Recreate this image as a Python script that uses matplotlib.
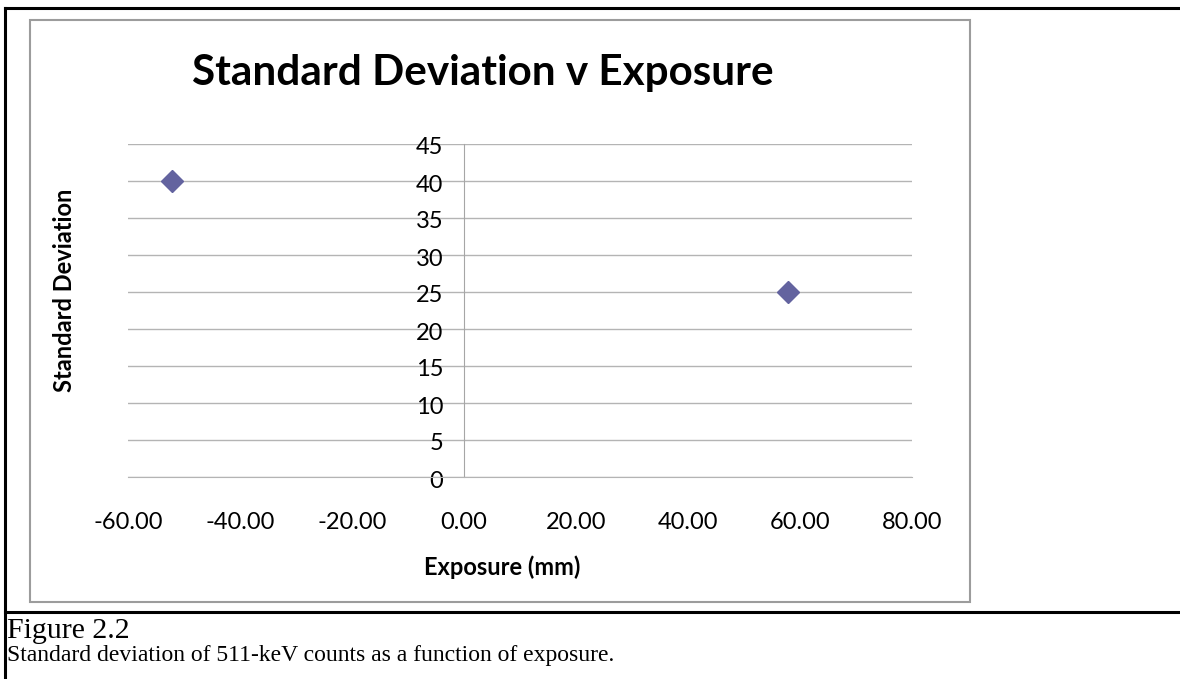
import numpy as np
import matplotlib.pyplot as plt
from matplotlib.patches import Rectangle
from matplotlib.lines import Line2D
from matplotlib.transforms import ScaledTranslation

# measured points
exposure = [-52.1, 57.9]
std_dev = [40, 25]

x_ticks = [-60, -40, -20, 0, 20, 40, 60, 80]
y_ticks = [0, 5, 10, 15, 20, 25, 30, 35, 40, 45]

W, H = 1180, 679

def fx(px):
    return px / W

def fy(py):
    return 1 - py / H

plt.rcParams['font.family'] = ['Lato', 'DejaVu Sans']

fig = plt.figure(figsize=(W / 100, H / 100), dpi=100)

# plot area
ax = fig.add_axes([fx(128), fy(477), fx(912) - fx(128), fy(144) - fy(477)])
ax.set_xlim(-60, 80)
ax.set_ylim(0, 45)

grid_c = '#b4b4b4'
ax.set_yticks(y_ticks)
ax.set_yticklabels([str(v) for v in y_ticks])
ax.set_xticks(x_ticks)
ax.set_xticklabels(['%.2f' % v for v in x_ticks])
ax.grid(axis='y', color=grid_c, linewidth=1)
ax.set_axisbelow(True)

for s in ['top', 'right']:
    ax.spines[s].set_visible(False)
ax.spines['left'].set_position(('data', 0))
ax.spines['left'].set_color('#a6a6a6')
ax.spines['bottom'].set_color(grid_c)
ax.tick_params(axis='both', length=0, labelsize=17, colors='black')
ax.tick_params(axis='y', pad=15)
ax.tick_params(axis='x', pad=25.5)

# y labels sit a little below their gridline
shift = ScaledTranslation(0, -0.04, fig.dpi_scale_trans)
for lab in ax.get_yticklabels():
    lab.set_verticalalignment('center')
    lab.set_transform(lab.get_transform() + shift)

ax.plot(exposure, std_dev, linestyle='none', marker='D', markersize=11,
        color='#63639f', clip_on=False, zorder=5)

# chart frame (grey) and page frame (black)
fig.patches.append(Rectangle((fx(30), fy(602)), fx(970) - fx(30), fy(20) - fy(602),
                             transform=fig.transFigure, fill=False,
                             edgecolor='#9c9c9c', linewidth=1.5))
fig.lines.append(Line2D([fx(5), 1], [fy(8), fy(8)], transform=fig.transFigure,
                        color='black', linewidth=2.2))
fig.lines.append(Line2D([fx(5), fx(5)], [fy(8), 0], transform=fig.transFigure,
                        color='black', linewidth=2.2))
fig.lines.append(Line2D([fx(5), 1], [fy(612), fy(612)], transform=fig.transFigure,
                        color='black', linewidth=2.2))

fig.text(fx(483), fy(73), 'Standard Deviation v Exposure', ha='center', va='center',
         fontsize=30.4, fontweight='bold')
fig.text(fx(65), fy(290), 'Standard Deviation', ha='center', va='center',
         rotation=90, fontsize=17, fontweight='bold')
fig.text(fx(502), fy(567), 'Exposure (mm)', ha='center', va='center',
         fontsize=17, fontweight='bold')

fig.text(fx(7), fy(631), 'Figure 2.2', ha='left', va='center',
         fontsize=21.5, family='Liberation Serif')
fig.text(fx(7), fy(656), 'Standard deviation of 511-keV counts as a function of exposure.',
         ha='left', va='center', fontsize=17, family='Liberation Serif')

fig.savefig('out.png', dpi=100)
